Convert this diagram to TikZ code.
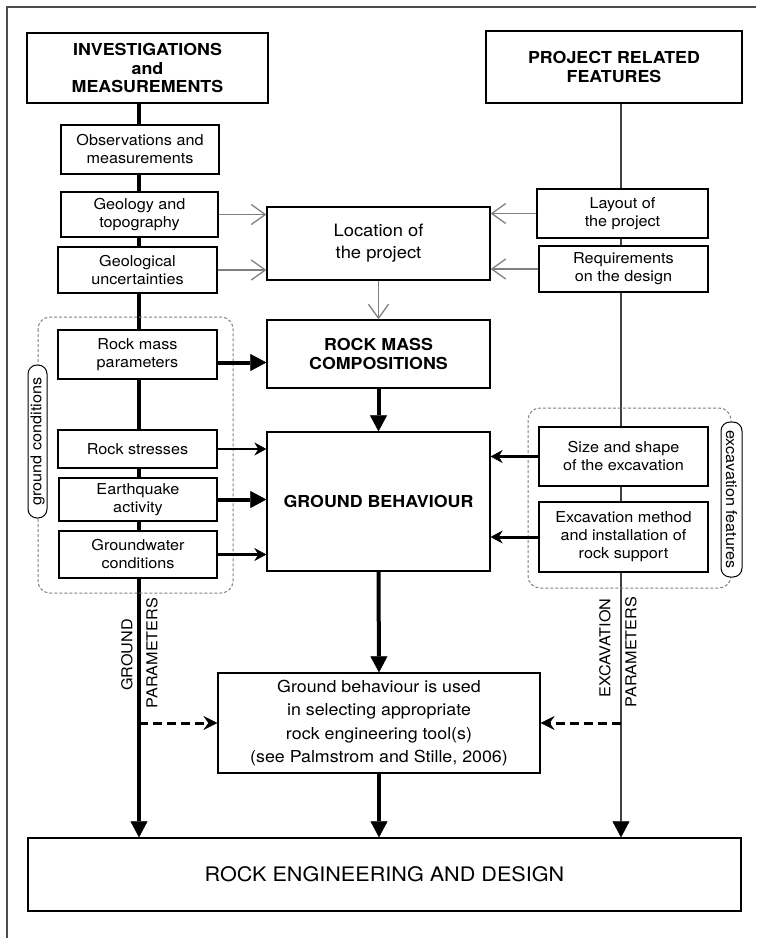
\documentclass[tikz,border=0pt]{standalone}
\usepackage{fontspec}
\setmainfont{TeX Gyre Heros}[FakeStretch=1.08]
\usetikzlibrary{arrows.meta, backgrounds}

\begin{document}
\begin{tikzpicture}[x=1pt, y=-1pt,
  box/.style={draw, line width=1.3pt, fill=white, align=center, inner sep=0pt, font=\fontsize{15}{18}\selectfont},
  head/.style={box, font=\fontsize{16.5}{18.5}\selectfont\bfseries},
  group/.style={draw=gray, dash pattern=on 3pt off 2pt, line width=1pt, rounded corners=12pt},
  tag/.style={draw, fill=white, rounded corners=9pt, line width=1pt, inner sep=0pt, font=\fontsize{15}{18}\selectfont},
  vlabel/.style={rotate=90, inner sep=0pt, font=\fontsize{15}{18}\selectfont},
  spine/.style={line width=4pt, -{Triangle[length=16pt,width=17pt,line width=0.5pt]}},
  rline/.style={line width=1.5pt, draw=gray!50!black, -{Triangle[length=16pt,width=17pt,line width=0.5pt,color=black]}},
  push/.style={line width=4pt, -{Triangle[length=16pt,width=17pt,line width=0.5pt]}},
  feed/.style={line width=1.3pt, draw=gray, -{Straight Barb[length=14pt,width=20pt,line width=1.3pt]}},
  side/.style={line width=3pt, -{Stealth[length=12pt,width=13pt,inset=4pt,line width=0.5pt]}},
  hint/.style={line width=3pt, dash pattern=on 9pt off 5pt, -{Stealth[length=14pt,width=14pt,inset=5pt,line width=0.5pt]}}]
\useasboundingbox (0,0) rectangle (756,938);
% frame
\draw[line width=1.5pt, gray!60!black] (756,7) -- (7,7) -- (7,938);
% groups
\draw[group] (38,317) rectangle (233,593);
\draw[group] (528,408) rectangle (731,588);
% top row
\node[head, minimum width=241pt, minimum height=70pt] (inv) at (147.5,68) {INVESTIGATIONS\\and\\MEASUREMENTS};
\node[head, minimum width=256pt, minimum height=72pt] (proj) at (614,67) {PROJECT RELATED\\FEATURES};
% left column
\node[box, minimum width=158pt, minimum height=49pt] (obs) at (140,149.5) {Observations and\\measurements};
\node[box, minimum width=157pt, minimum height=45pt] (geo) at (139.5,214.5) {Geology and\\topography};
\node[box, minimum width=159pt, minimum height=46pt] (unc) at (137.5,270) {Geological\\uncertainties};
\node[box, minimum width=159pt, minimum height=49pt] (rmp) at (137.5,354.5) {Rock mass\\parameters};
\node[box, minimum width=159pt, minimum height=38pt] (rst) at (137.5,449) {Rock stresses};
\node[box, minimum width=158pt, minimum height=43pt] (eqa) at (138,499.5) {Earthquake\\activity};
\node[box, minimum width=158pt, minimum height=47pt] (gwc) at (138,554.5) {Groundwater\\conditions};
% middle
\node[box, minimum width=223pt, minimum height=73pt, font=\fontsize{17}{22}\selectfont] (loc) at (378.5,243.5) {Location of\\the project};
\node[head, minimum width=223pt, minimum height=68pt] (rmc) at (378.5,354) {ROCK MASS\\COMPOSITIONS};
\node[head, minimum width=223pt, minimum height=139pt] (gb) at (378.5,501.5) {GROUND BEHAVIOUR};
% right column
\node[box, minimum width=171pt, minimum height=49pt] (lay) at (622.5,213.5) {Layout of\\the project};
\node[box, minimum width=169pt, minimum height=46pt] (req) at (623.5,269) {Requirements\\on the design};
\node[box, minimum width=169pt, minimum height=59pt] (sas) at (623.5,456.5) {Size and shape\\of the excavation};
\node[box, minimum width=169pt, minimum height=70pt] (exm) at (623.5,537) {Excavation method\\and installation of\\rock support};
% bottom
\node[box, minimum width=322pt, minimum height=100pt, font=\fontsize{16.5}{23.3}\selectfont] (used) at (379,723) {Ground behaviour is used\\in selecting appropriate\\rock engineering tool(s)\\(see Palmstrom and Stille, 2006)};
\node[box, minimum width=713pt, minimum height=73pt, font=\fontsize{20}{24}\selectfont] (red) at (384.5,874.5) {ROCK ENGINEERING AND DESIGN};
% tags
\node[tag, rotate=90, minimum width=153pt, minimum height=19pt] (gctag) at (37.5,441.5) {ground conditions};
\node[tag, rotate=-90, minimum width=155pt, minimum height=21pt] (eftag) at (731.5,499.5) {excavation features};
\node[vlabel] (gnd) at (127,655) {GROUND};
\node[vlabel] (gpar) at (152,653) {PARAMETERS};
\node[vlabel] (exc) at (605,648) {EXCAVATION};
\node[vlabel] (epar) at (631,652) {PARAMETERS};
\coordinate (gp) at (139,723);
\coordinate (ep) at (621,723);
% connectors
\begin{scope}[on background layer]
\draw[spine] (inv.south -| gp) -- (red.north -| gp);
\draw[rline] (proj.south -| ep) -- (red.north -| ep);
\end{scope}
\draw[feed] (geo.east) -- (geo.east -| loc.west);
\draw[feed] (unc.east) -- (unc.east -| loc.west);
\draw[feed] (lay.west) -- (lay.west -| loc.east);
\draw[feed] (req.west) -- (req.west -| loc.east);
\draw[feed] (loc.south) -- (rmc.north);
\draw[push] ([yshift=-8pt]rmp.east) -- ([yshift=-8pt]rmp.east -| rmc.west);
\draw[push] (rmc.south) -- (gb.north);
\draw[side, line width=1.5pt] (rst.east) -- (rst.east -| gb.west);
\draw[push] (eqa.east) -- (eqa.east -| gb.west);
\draw[side] (gwc.east) -- (gwc.east -| gb.west);
\draw[side] (sas.west) -- (sas.west -| gb.east);
\draw[side] (exm.west) -- (exm.west -| gb.east);
\draw[push] (gb.south) -- (used.north);
\draw[push] (used.south) -- (red.north -| used.south);
\draw[hint] (gp) -- (used.west);
\draw[hint] (ep) -- (used.east);
\end{tikzpicture}
\end{document}
